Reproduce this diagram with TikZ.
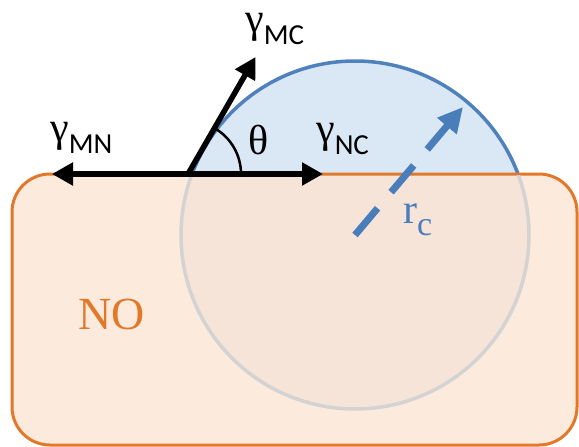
\documentclass[tikz,border=0pt]{standalone}
\usepackage{fontspec}
\setmainfont{Liberation Serif}
\newfontfamily\subfont{Carlito}
\usetikzlibrary{arrows.meta}
\definecolor{orangeline}{HTML}{E2782A}
\definecolor{orangefill}{HTML}{FCEADC}
\definecolor{blueline}{HTML}{4F81BD}
\definecolor{bluefill}{HTML}{DAE7F5}
\definecolor{grayline}{HTML}{D3D3D3}
\definecolor{dashblue}{HTML}{4A7EBB}
\newcommand\gammalabel[1]{{\fontsize{42}{42}\selectfont γ}\raisebox{-12pt}{\subfont\fontsize{29}{29}\selectfont #1}}
\tikzset{
  force/.style={line width=5.5pt, -{Triangle[length=21pt,width=22pt]}},
  lbl/.style={inner sep=0pt, anchor=base west},
}
\begin{document}
\begin{tikzpicture}[x=1pt,y=-1pt]
\useasboundingbox (0,0) rectangle (579,447);
\clip (0,0) rectangle (579,447);
\coordinate (C) at (355,235);
\coordinate (O) at (188,174);
\coordinate (mn) at (52,174);
\coordinate (nc) at (323,174);
\coordinate (mc) at (255.5,57);
\coordinate (rtip) at (463,107);
% droplet cap
\begin{scope}
  \clip (0,0) rectangle (579,174);
  \fill[bluefill] (C) circle (174);
  \draw[blueline, line width=3.5pt] (C) circle (174);
\end{scope}
% substrate
\draw[orangeline, fill=orangefill, line width=3pt, rounded corners=38pt] (12,174) rectangle (577,445);
% hidden part of the sphere
\begin{scope}
  \clip (0,175.5) rectangle (579,447);
  \draw[grayline, line width=3.5pt, fill=gray, fill opacity=0.05] (C) circle (174);
\end{scope}
% forces
\draw[force] (O) -- (mn);
\draw[force] (O) -- (nc);
\draw[force] (O) -- (mc);
\draw[line width=2.5pt] (O) ++(53,0) arc[start angle=0, end angle=-60, radius=53];
% radius
\draw[dashblue, line width=7pt, dash pattern=on 35pt off 21pt, -{Triangle[length=25pt,width=24pt]}] (C) -- (rtip);
% labels
\node[lbl] (lmn) at (50,141) {\gammalabel{MN}};
\node[lbl] (lnc) at (316,142) {\gammalabel{NC}};
\node[lbl] (lmc) at (245,32) {\gammalabel{MC}};
\node[lbl] (lth) at (248,154) {\fontsize{42}{42}\selectfont θ};
\node[lbl, text=orangeline] (lno) at (78,329) {\fontsize{46}{46}\selectfont NO};
\node[lbl, text=dashblue] (lrc) at (403,223) {\fontsize{42}{42}\selectfont r\raisebox{-12pt}{\fontsize{34}{34}\selectfont c}};
\end{tikzpicture}
\end{document}
